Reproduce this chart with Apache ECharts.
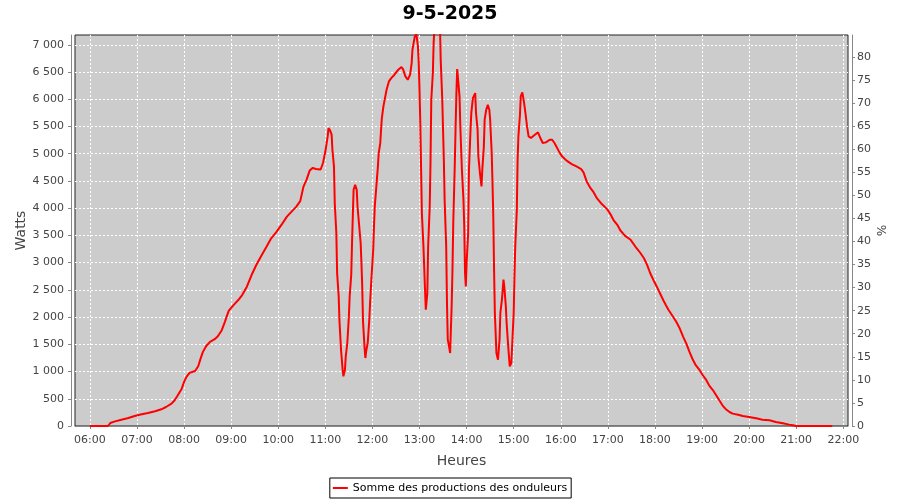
<!DOCTYPE html>
<html><head><meta charset="utf-8">
<script src="https://cdn.jsdelivr.net/npm/echarts@6/dist/echarts.min.js"></script>
<style>html,body{margin:0;padding:0;background:#fff}#c{width:900px;height:500px}</style>
</head><body><div id="c"></div>
<script>
const chartTitle = '9-5-2025';
const seriesName = 'Somme des productions des onduleurs';
const xName = 'Heures';
const yName = 'Watts';
const y2Name = '%';

const times = [
'06:00','06:23','06:26','06:31','06:40','06:49','06:57','07:06','07:14','07:23','07:31','07:37','07:44','07:48','07:52','07:57',
'08:00','08:03','08:07','08:14','08:18','08:21','08:24','08:28','08:33','08:39','08:43','08:48','08:52','08:54','08:57',
'09:03','09:09','09:14','09:20','09:26','09:32','09:39','09:45','09:51','09:58',
'10:04','10:11','10:17','10:23','10:28','10:32','10:36','10:40','10:44','10:48','10:54','10:57',
'11:00','11:03','11:04','11:06','11:08','11:09','11:11','11:12','11:14','11:15','11:17','11:18','11:20','11:22','11:23','11:25','11:26','11:28',
'11:30','11:31','11:33','11:34','11:35','11:36','11:38','11:40','11:41','11:43','11:45','11:46','11:47','11:48','11:50','11:51','11:52','11:54','11:56','11:57','11:59',
'12:01','12:02','12:03','12:05','12:07','12:08','12:10','12:11','12:12','12:14','12:16','12:18','12:21','12:24','12:28','12:33','12:37','12:39','12:42','12:45','12:48','12:50','12:51','12:54','12:56','12:58','12:59',
'13:00','13:01','13:03','13:05','13:06','13:08','13:10','13:11','13:13','13:14','13:15','13:17','13:18','13:20','13:23','13:26','13:27','13:29',
'13:31','13:32','13:34','13:35','13:36','13:38','13:39','13:41','13:42','13:43','13:45','13:46','13:47','13:48','13:49','13:51','13:52','13:54','13:56','13:57','13:58','13:59',
'14:00','14:02','14:03','14:05','14:06','14:08','14:11','14:12','14:14','14:15','14:17','14:19','14:20','14:22','14:23','14:25','14:27','14:29',
'14:30','14:32','14:33','14:34','14:35','14:36','14:38','14:40','14:42','14:43','14:45','14:47','14:48','14:50','14:51','14:53','14:55','14:57','14:58',
'15:00','15:01','15:02','15:04','15:05','15:06','15:08','15:09','15:11','15:13','15:15','15:17','15:19','15:22','15:27','15:31','15:34','15:37','15:41','15:46','15:49','15:52','15:57',
'16:01','16:07','16:14','16:20','16:26','16:29','16:33','16:37','16:42','16:46','16:52','16:59',
'17:03','17:07','17:12','17:16','17:22','17:29','17:35','17:41','17:46','17:50','17:54','17:59',
'18:03','18:07','18:11','18:14','18:17','18:22','18:27','18:31','18:36','18:40','18:44','18:48','18:52','18:57',
'19:01','19:05','19:09','19:14','19:18','19:22','19:26','19:30','19:35','19:39','19:46','19:52',
'20:00','20:09','20:17','20:26','20:34','20:43','20:51','20:56','21:00','21:46'
];
const watts = [
0,0,55,80,116,147,184,215,239,270,307,349,411,472,564,686,
809,901,975,1011,1097,1238,1361,1465,1545,1594,1649,1759,1913,2000,2120,
2220,2313,2405,2558,2772,2956,3140,3293,3447,3569,
3692,3845,3937,4029,4130,4390,4520,4690,4740,4720,4710,4830,
5040,5318,5471,5430,5350,5073,4767,4094,3543,2809,2381,1922,1401,1034,912,1034,1279,1524,
2013,2381,2778,3360,3849,4339,4431,4339,4033,3696,3360,2993,2564,1922,1432,1248,1371,1524,1952,2258,2778,
3237,3666,4033,4400,4767,5012,5196,5441,5655,5869,6022,6175,6328,6389,6451,6542,6591,6554,6420,6359,6451,6665,6910,7154,7200,6971,6665,
6175,5563,3911,3299,2901,2136,2442,3299,4033,4829,5991,6481,7032,7600,7800,7400,6726,5991,
4890,4155,3299,2258,1585,1432,1340,2228,2870,3727,4829,5502,6114,6554,6573,6053,5502,4706,4155,3666,2809,2564,
2993,3543,4706,5441,5747,6022,6114,5747,5441,4951,4645,4400,4706,5135,5624,5808,5900,5808,
5624,5012,4461,3849,2870,2075,1340,1218,1585,2075,2319,2687,2564,2197,1891,1463,1095,1157,1463,
2075,2748,3299,3972,4890,5318,5716,6053,6126,5961,5747,5502,5318,5288,5349,5392,5288,5196,5208,5257,5257,5196,5061,
4963,4877,4810,4767,4718,4657,4491,4387,4289,4184,4080,3982,
3897,3786,3694,3590,3492,3419,3296,3186,3081,2959,2805,2652,
2540,2420,2300,2219,2140,2030,1920,1810,1637,1514,1361,1226,1116,1024,
932,852,748,656,564,472,380,313,257,227,208,184,
166,141,116,104,74,49,25,12,0,0
];
const hourTicks = ['06:00','07:00','08:00','09:00','10:00','11:00','12:00','13:00','14:00','15:00','16:00','17:00','18:00','19:00','20:00','21:00','22:00'];
const wattTicks = [0,500,1000,1500,2000,2500,3000,3500,4000,4500,5000,5500,6000,6500,7000];
const pctTicks = [0,5,10,15,20,25,30,35,40,45,50,55,60,65,70,75,80];

function toMin(s){const p=s.split(':');return (+p[0])*60+(+p[1]);}
function fmtHM(v){const h=Math.floor(v/60),m=Math.round(v-h*60);return String(h).padStart(2,'0')+':'+String(m).padStart(2,'0');}
function fmtW(v){return String(Math.round(v)).replace(/\B(?=(\d{3})+(?!\d))/g,' ');}

const data = times.map((t,i)=>[toMin(t), watts[i]]);
const hourVals = hourTicks.map(toMin);
const FONT = 'DejaVu Sans';
const labelStyle = {fontFamily: FONT, fontSize: 11, color: '#444'};

const chart = echarts.init(document.getElementById('c'), null, {renderer: 'canvas'});
chart.setOption({
  animation: false,
  backgroundColor: '#ffffff',
  title: {text: chartTitle, left: 'center', top: 5, padding: 0,
    textStyle: {fontFamily: FONT, fontSize: 19, fontWeight: 'bold', color: '#000'}},
  legend: {
    data: [seriesName], left: 'center', top: 478, icon: 'rect', itemWidth: 15, itemHeight: 2,
    padding: [3, 4, 3, 3], borderColor: '#000', borderWidth: 1, borderRadius: 0, backgroundColor: '#fff',
    textStyle: {fontFamily: FONT, fontSize: 11, color: '#000', lineHeight: 14}
  },
  grid: {left: 75, right: 52, top: 35, bottom: 74, show: true, backgroundColor: '#cccccc', borderColor: '#222', borderWidth: 1, containLabel: false},
  xAxis: {
    type: 'value', min: 341, max: 1326, offset: 4,
    name: xName, nameLocation: 'middle', nameGap: 24, nameMoveOverlap: false,
    nameTextStyle: {fontFamily: FONT, fontSize: 14, color: '#444'},
    axisLine: {show: true, lineStyle: {color: '#888'}},
    axisTick: {show: true, length: 3, inside: false, customValues: hourVals, lineStyle: {color: '#888'}},
    axisLabel: Object.assign({customValues: hourVals, margin: 5, formatter: fmtHM}, labelStyle),
    splitLine: {show: true, customValues: hourVals, lineStyle: {color: '#ffffff', type: [2, 2], width: 1}}
  },
  yAxis: [{
    type: 'value', min: 0, max: 7180, interval: 500, offset: 4, position: 'left',
    name: yName, nameLocation: 'middle', nameGap: 43, nameMoveOverlap: false,
    nameTextStyle: {fontFamily: FONT, fontSize: 14, color: '#444'},
    axisLine: {show: true, lineStyle: {color: '#888'}},
    axisTick: {show: true, length: 3, customValues: wattTicks, lineStyle: {color: '#888'}},
    axisLabel: Object.assign({customValues: wattTicks, margin: 7, formatter: fmtW}, labelStyle),
    splitLine: {show: true, lineStyle: {color: '#ffffff', type: [2, 2], width: 1}}
  }, {
    type: 'value', min: 0, max: 84.75, interval: 5, offset: 4, position: 'right',
    name: y2Name, nameLocation: 'middle', nameGap: 22, nameRotate: -90, nameMoveOverlap: false,
    nameTextStyle: {fontFamily: FONT, fontSize: 12, color: '#444'},
    axisLine: {show: true, lineStyle: {color: '#888'}},
    axisTick: {show: true, length: 3, customValues: pctTicks, lineStyle: {color: '#888'}},
    axisLabel: Object.assign({customValues: pctTicks, margin: 5}, labelStyle),
    splitLine: {show: false}
  }],
  series: [{
    name: seriesName, type: 'line', data: data, yAxisIndex: 0, showSymbol: false, symbol: 'none',
    clip: true, lineStyle: {color: '#ff0000', width: 2}, itemStyle: {color: '#ff0000'}
  }]
});
</script>
</body></html>
